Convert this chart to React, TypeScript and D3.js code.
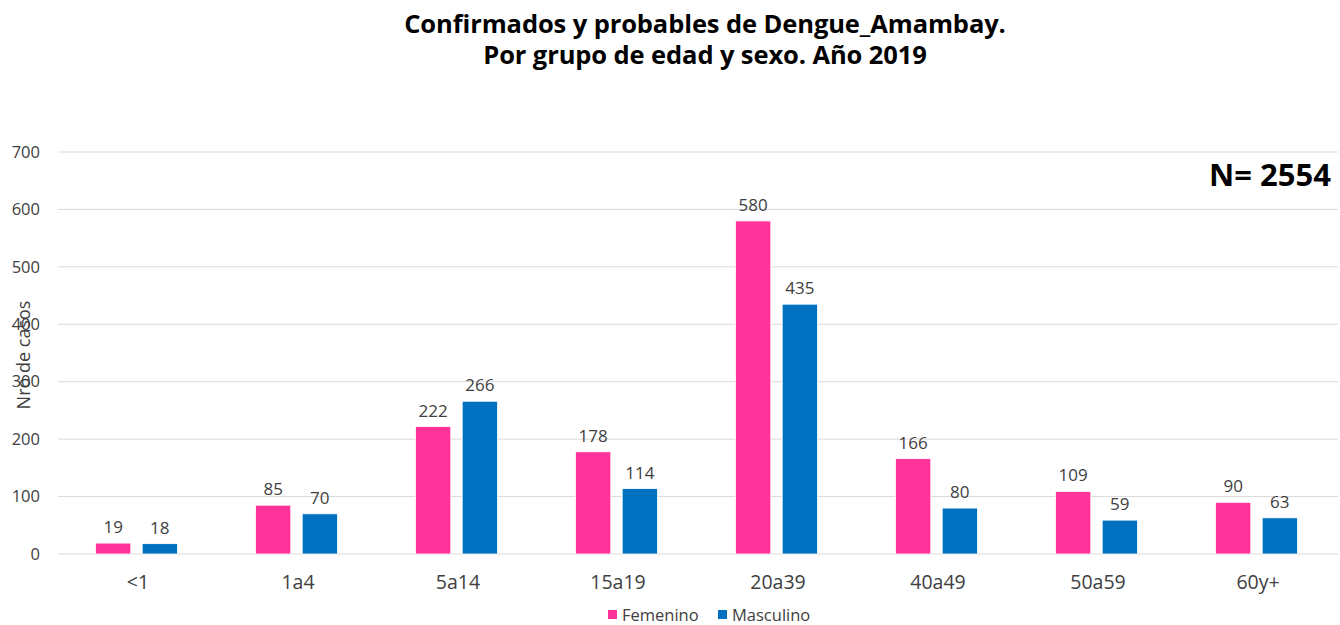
import { useEffect, useRef } from 'react'
import * as d3 from 'd3'

const W = 1340, H = 625
const M = { top: 152, right: 2, bottom: 71, left: 58 }

const CATEGORIES = ['<1', '1a4', '5a14', '15a19', '20a39', '40a49', '50a59', '60y+']
const FEMENINO = [19, 85, 222, 178, 580, 166, 109, 90]
const MASCULINO = [18, 70, 266, 114, 435, 80, 59, 63]
const Y_TICKS = [0, 100, 200, 300, 400, 500, 600, 700]

const SERIES = [
  { key: 'Femenino', values: FEMENINO, color: '#FF3399' },
  { key: 'Masculino', values: MASCULINO, color: '#0070C0' },
]

const FONT = "'Open Sans', 'Noto Sans', sans-serif"
const TXT = '#404040'

export default function App() {
  const svgRef = useRef<SVGSVGElement>(null)

  useEffect(() => {
    const svg = d3.select(svgRef.current!)
    svg.selectAll('*').remove()

    const iw = W - M.left - M.right
    const ih = H - M.top - M.bottom

    const x = d3.scaleBand<string>().domain(CATEGORIES).range([M.left, M.left + iw])
    const y = d3.scaleLinear().domain([0, 700]).range([M.top + ih, M.top])
    // two bars of ~36px with a ~10px gap, centred on the band
    const mid = x.bandwidth() / 2 - 1.5
    const sub = d3.scaleBand<string>().domain(SERIES.map(s => s.key))
      .range([mid - 41, mid + 41]).paddingInner(10 / 41)

    // gridlines
    svg.append('g').selectAll('line').data(Y_TICKS).join('line')
      .attr('x1', M.left).attr('x2', M.left + iw)
      .attr('y1', d => y(d)).attr('y2', d => y(d))
      .attr('stroke', '#d9d9d9').attr('stroke-width', 1)

    // y tick labels
    svg.append('g').selectAll('text').data(Y_TICKS).join('text')
      .attr('x', 40).attr('y', d => y(d)).attr('dy', '0.35em')
      .attr('text-anchor', 'end').attr('font-size', 16.5).attr('font-family', FONT)
      .attr('fill', TXT).text(d => d)

    // y axis title
    svg.append('text')
      .attr('transform', `translate(24,${355}) rotate(-90)`).attr('dy', '0.35em')
      .attr('text-anchor', 'middle').attr('font-size', 18).attr('font-family', FONT)
      .attr('fill', TXT).text('Nro de casos')

    // bars + labels
    SERIES.forEach(s => {
      const g = svg.append('g')
      g.selectAll('rect').data(s.values).join('rect')
        .attr('x', (_, i) => x(CATEGORIES[i])! + sub(s.key)!)
        .attr('y', d => y(d)).attr('width', sub.bandwidth())
        .attr('height', d => y(0) - y(d)).attr('fill', s.color)
        .attr('stroke', '#fff').attr('stroke-width', 0.8)
      g.selectAll('text').data(s.values).join('text')
        .attr('x', (_, i) => x(CATEGORIES[i])! + sub(s.key)! + sub.bandwidth() / 2)
        .attr('y', d => y(d) - 10).attr('text-anchor', 'middle')
        .attr('font-size', 17).attr('font-family', FONT).attr('fill', TXT)
        .text(d => d)
    })

    // category labels
    svg.append('g').selectAll('text').data(CATEGORIES).join('text')
      .attr('x', d => x(d)! + x.bandwidth() / 2).attr('y', y(0) + 35)
      .attr('text-anchor', 'middle').attr('font-size', 19.5).attr('font-family', FONT)
      .attr('fill', TXT).text(d => d)

    // title
    const title = svg.append('text').attr('text-anchor', 'middle')
      .attr('font-size', 25.5).attr('font-weight', 'bold').attr('font-family', FONT)
      .attr('fill', '#000').attr('letter-spacing', -0.1)
    title.append('tspan').attr('x', 705).attr('y', 33).text('Confirmados y probables de Dengue_Amambay.')
    title.append('tspan').attr('x', 705).attr('y', 64).text('Por grupo de edad y sexo. Año 2019')

    // N annotation
    svg.append('text').attr('x', 1331).attr('y', 186).attr('text-anchor', 'end')
      .attr('font-size', 31).attr('font-weight', 'bold').attr('font-family', FONT)
      .attr('fill', '#000').text('N= 2554')

    // legend
    const legend = svg.append('g')
    const lx = [608, 718]
    SERIES.forEach((s, i) => {
      legend.append('rect').attr('x', lx[i]).attr('y', 610).attr('width', 9).attr('height', 9)
        .attr('fill', s.color)
      legend.append('text').attr('x', lx[i] + 14).attr('y', 615).attr('dy', '0.35em')
        .attr('font-size', 16.5).attr('font-family', FONT).attr('fill', TXT).text(s.key)
    })
  }, [])

  return (
    <svg ref={svgRef} width={W} height={H} viewBox={`0 0 ${W} ${H}`}
      style={{ position: 'absolute', left: 0, top: 0, background: '#fff' }} />
  )
}
